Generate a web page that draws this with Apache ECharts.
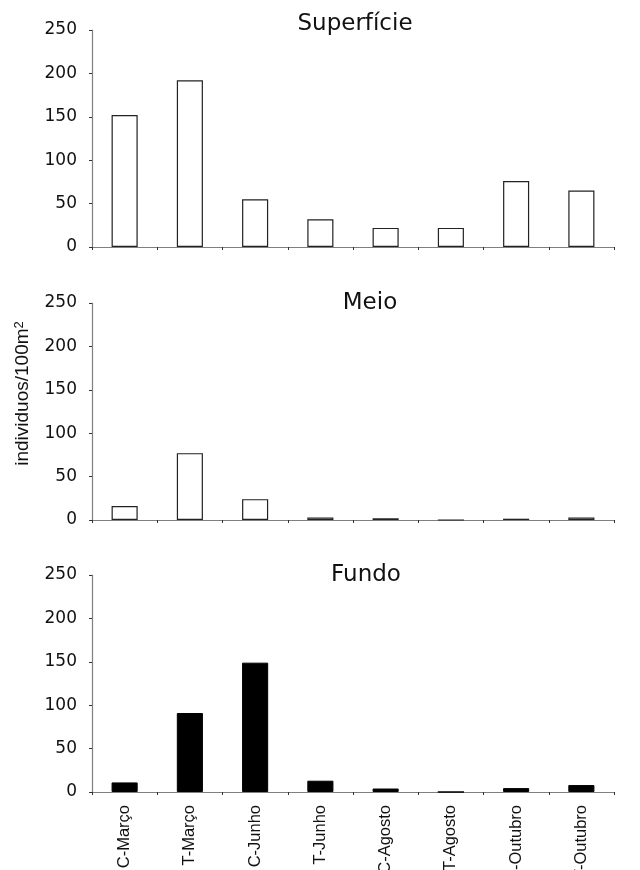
<!DOCTYPE html>
<html>
<head>
<meta charset="utf-8">
<script src="https://cdn.jsdelivr.net/npm/echarts@6/dist/echarts.min.js"></script>
<style>html,body{margin:0;padding:0;background:#fff;}#c{width:640px;height:870px;}</style>
</head>
<body>
<div id="c"></div>
<script>
const categories = ['C-Março','T-Março','C-Junho','T-Junho','C-Agosto','T-Agosto','C-Outubro','T-Outubro'];
const superficie = [152, 192, 55, 32, 22, 22, 76, 65];
const meio = [16, 77, 24, 3, 2, 0, 1.5, 3];
const fundo = [11, 91, 149, 13, 4, 0, 4.5, 8];
const panelTitles = ['Superfície', 'Meio', 'Fundo'];
const yTicks = {min: 0, max: 250, interval: 50};

const chart = echarts.init(document.getElementById('c'), null, {renderer: 'canvas'});
const axisGrey = '#7f7f7f';
const grids = [
  {left: 92, right: 26, top: 30, height: 217, outerBoundsMode: 'none', containLabel: false},
  {left: 92, right: 26, top: 303, height: 217, outerBoundsMode: 'none', containLabel: false},
  {left: 92, right: 26, top: 575, height: 217, outerBoundsMode: 'none', containLabel: false}
];
const titlePos = [{x: 350, y: 8}, {x: 365, y: 287}, {x: 361, y: 559}];
function xAxis(i, showLabels) {
  return {
    type: 'category', gridIndex: i, data: categories, boundaryGap: true,
    axisLine: {show: true, lineStyle: {color: axisGrey, width: 1.2}},
    axisTick: {show: true, length: 3, interval: 0, lineStyle: {color: '#333'}},
    axisLabel: showLabels ? {show: true, rotate: 90, interval: 0, fontSize: 16.5, margin: 13,
      fontFamily: 'Liberation Sans, Arial, sans-serif', color: '#111'} : {show: false},
    splitLine: {show: false}
  };
}
function yAxis(i, withName) {
  const ax = {
    type: 'value', gridIndex: i, min: yTicks.min, max: yTicks.max, interval: yTicks.interval,
    axisLine: {show: true, lineStyle: {color: axisGrey, width: 1.2}},
    axisTick: {show: true, length: 3, lineStyle: {color: '#333'}},
    axisLabel: {fontSize: 17, margin: 15, fontFamily: 'DejaVu Sans, sans-serif', color: '#111'},
    splitLine: {show: false}
  };
  if (withName) {
    ax.name = 'individuos/100m{sup|2}';
    ax.nameLocation = 'middle';
    ax.nameRotate = 90;
    ax.nameGap = 53;
    ax.nameTextStyle = {
      fontSize: 19, fontFamily: 'Liberation Sans, Arial, sans-serif', color: '#111',
      lineHeight: 21, padding: [0, 0, 0, 36],
      rich: {sup: {fontSize: 13, verticalAlign: 'top', lineHeight: 21, fontFamily: 'Liberation Sans, Arial, sans-serif', color: '#111'}}
    };
  }
  return ax;
}
const datasets = [superficie, meio, fundo];
const option = {
  animation: false,
  backgroundColor: '#fff',
  title: panelTitles.map((t, i) => ({
    text: t, left: titlePos[i].x, top: titlePos[i].y, textAlign: 'center',
    textStyle: {fontSize: 23, fontWeight: 'normal', fontFamily: 'DejaVu Sans, sans-serif', color: '#111'}
  })),
  grid: grids,
  xAxis: [xAxis(0, false), xAxis(1, false), xAxis(2, true)],
  yAxis: [yAxis(0, false), yAxis(1, true), yAxis(2, false)],
  series: datasets.map((d, i) => ({
    type: 'bar', xAxisIndex: i, yAxisIndex: i, data: d, barWidth: '40%',
    itemStyle: i < 2 ? {color: '#fff', borderColor: '#222', borderWidth: 1.2} : {color: '#000', borderColor: '#000', borderWidth: 1}
  }))
};
chart.setOption(option);
</script>
</body>
</html>
